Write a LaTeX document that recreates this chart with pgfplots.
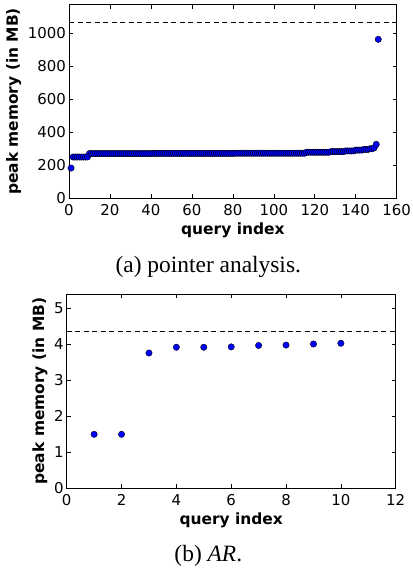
\documentclass[border=0pt]{standalone}
\usepackage{fontspec}
\setmainfont{Liberation Serif}
\newfontfamily\dejavu{DejaVu Sans}
\usepackage{pgfplots}
\pgfplotsset{compat=1.18}

\pgfplotsset{
  memplot/.style={
    scale only axis,
    anchor=south west,
    tick align=inside,
    major tick length=4bp,
    tick style={black, line width=0.6pt},
    axis line style={black, line width=0.8pt},
    ticklabel style={font=\dejavu\fontsize{15}{15}\selectfont},
    xticklabel style={yshift=-2.5bp},
    yticklabel style={xshift=0.5bp},
    label style={font=\dejavu\bfseries\fontsize{15.5}{15.5}\selectfont},
    /pgf/number format/assume math mode=true,
    /pgf/number format/1000 sep={},
    xlabel={query index},
    ylabel={peak memory (in MB)},
    clip=false,
  },
  memmarks/.style={only marks, mark=*, mark size=3.2bp,
    mark options={fill=blue, draw=black, line width=0.4pt}},
  limitline/.style={black, line width=0.8pt, dash pattern=on 5bp off 3.5bp},
}

\begin{document}
\begin{tikzpicture}[x=1bp,y=1bp]
\useasboundingbox (0,0) rectangle (412,569);

% (a) pointer analysis
\begin{axis}[memplot,
    at={(69bp,370.7bp)},
    width=327.7bp, height=193.6bp,
    xmin=0, xmax=160, ymin=0, ymax=1173,
    xtick={0,20,...,160}, ytick={0,200,...,1000}]
  \addplot[limitline] coordinates {(0,1068) (160,1068)};
  \addplot[memmarks] coordinates {
    (1,183)
    (2,250)(3,250)(4,250)(5,250)(6,250)(7,250)(8,250)(9,250)
    (10,271)(11,271)(12,271)(13,271)(14,271)(15,271)(16,271)(17,271)(18,271)(19,271)
    (20,271)(21,271)(22,271)(23,271)(24,271)(25,271)(26,271)(27,271)(28,271)(29,271)
    (30,271)(31,271)(32,271)(33,271)(34,271)(35,271)(36,271)(37,271)(38,271)(39,271)
    (40,271)
    (41,272)(42,272)(43,272)(44,272)(45,272)(46,272)(47,272)(48,272)(49,272)(50,272)
    (51,272)(52,272)(53,272)(54,272)(55,272)(56,272)(57,272)(58,272)(59,272)(60,272)
    (61,272)(62,272)(63,272)(64,272)(65,272)(66,272)(67,272)(68,272)(69,272)(70,272)
    (71,272)(72,272)(73,272)(74,272)(75,272)(76,272)(77,272)(78,272)(79,272)(80,272)
    (81,273)(82,273)(83,273)(84,273)(85,273)(86,273)(87,273)(88,273)(89,273)(90,273)
    (91,273)(92,273)(93,273)(94,273)(95,273)(96,273)(97,273)(98,273)(99,273)(100,273)
    (101,273)(102,273)(103,273)(104,273)(105,273)(106,273)(107,273)(108,273)(109,273)
    (110,273)(111,273)(112,273)(113,273)(114,273)(115,273)
    (116,279)(117,279)(118,279)(119,279)(120,279)(121,279)(122,279)(123,279)(124,279)
    (125,279)(126,279)(127,279)
    (128,283)(129,283)(130,283)(131,283)(132,283)(133,283)(134,283)
    (135,287)(136,287)(137,287)(138,287)(139,287)
    (140,292)(141,292)(142,292)(143,292)
    (144,296)(145,296)(146,296)
    (147,300)(148,300)
    (149,306)(150,327)(151,963)
  };
\end{axis}
\node[anchor=base, font=\fontsize{23.5}{23.5}\selectfont] at (208.3,296.7) {(a) pointer analysis.};

% (b) AR
\begin{axis}[memplot,
    at={(66.7bp,80.7bp)},
    width=329bp, height=194.3bp,
    xmin=0, xmax=12, ymin=0, ymax=5.4,
    xtick={0,2,...,12}, ytick={0,1,...,5}]
  \addplot[limitline] coordinates {(0,4.36) (12,4.36)};
  \addplot[memmarks] coordinates {
    (1,1.50)(2,1.50)(3,3.76)(4,3.92)(5,3.92)
    (6,3.93)(7,3.97)(8,3.98)(9,4.01)(10,4.03)
  };
\end{axis}
\node[anchor=base, font=\fontsize{23.5}{23.5}\selectfont] at (208.3,7) {(b) \textit{AR}.};
\end{tikzpicture}
\end{document}
